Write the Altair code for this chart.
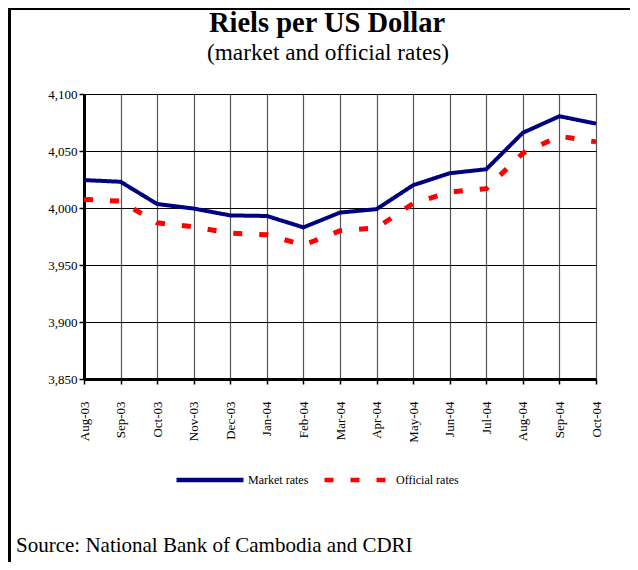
import altair as alt
import pandas as pd

months = ["Aug-03", "Sep-03", "Oct-03", "Nov-03", "Dec-03", "Jan-04", "Feb-04",
          "Mar-04", "Apr-04", "May-04", "Jun-04", "Jul-04", "Aug-04", "Sep-04", "Oct-04"]
market = [4024.5, 4023, 4003.5, 3999.5, 3993.5, 3993, 3983, 3996, 3999,
          4020, 4030.5, 4034, 4066, 4080.5, 4074]
official = [4007.5, 4006, 3987, 3983.5, 3978, 3976.5, 3967.5, 3980, 3982.5,
            4004, 4014, 4017, 4048, 4063, 4058]
series_names = ["Market rates", "Official rates"]
y_ticks = [3850, 3900, 3950, 4000, 4050, 4100]
title_text = "Riels per US Dollar"
subtitle_text = "(market and official rates)"
source_text = "Source: National Bank of Cambodia and CDRI"

df = pd.DataFrame({
    "month": months * 2,
    "rate": market + official,
    "series": [series_names[0]] * len(months) + [series_names[1]] * len(months),
})

FONT = "'Liberation Serif', 'Times New Roman', Times, serif"

x_enc = alt.X("month:N", sort=months, title=None,
              scale=alt.Scale(type="point", padding=0),
              axis=alt.Axis(labelAngle=270, labelAlign="right", labelBaseline="middle",
                            labelFont=FONT, labelFontSize=13, labelColor="black",
                            labelPadding=17, tickSize=5, tickColor="black", tickWidth=1.5,
                            domainColor="black", domainWidth=3,
                            grid=True, gridColor="#555555", gridWidth=1.2))
y_enc = alt.Y("rate:Q", title=None,
              scale=alt.Scale(domain=[3850, 4100], nice=False, zero=False),
              axis=alt.Axis(values=y_ticks, format=",d", labelFont=FONT, labelFontSize=13,
                            labelColor="black", labelPadding=2, tickSize=5, tickColor="black",
                            tickWidth=1.5, domainColor="black", domainWidth=3,
                            grid=True, gridColor="black", gridWidth=1))
legend_opts = dict(orient="none", legendX=90, legendY=350,
                   direction="horizontal", symbolType="stroke",
                   symbolSize=4489, symbolStrokeWidth=4.5,
                   labelFont=FONT, labelFontSize=12, labelColor="black",
                   labelOffset=2, columnPadding=6, padding=0)
color_enc = alt.Color("series:N", title=None,
                      scale=alt.Scale(domain=series_names, range=["#000080", "#FF0000"]),
                      legend=alt.Legend(**legend_opts))
dash_enc = alt.StrokeDash("series:N", title=None,
                          scale=alt.Scale(domain=series_names, range=[[1, 0], [9, 17]]),
                          legend=alt.Legend(**legend_opts))

base = alt.Chart(df)

market_line = base.transform_filter(alt.datum.series == series_names[0]).mark_line(
    strokeWidth=4, strokeJoin="miter"
).encode(x=x_enc, y=y_enc, color=color_enc, strokeDash=dash_enc)

official_line = base.transform_filter(alt.datum.series == series_names[1]).mark_line(
    strokeWidth=5, strokeCap="butt"
).encode(x=x_enc, y=y_enc, color=color_enc, strokeDash=dash_enc)

one = pd.DataFrame({"a": [0]})

title_mark = alt.Chart(one).mark_text(
    font=FONT, fontSize=28.5, fontWeight="bold", align="center", baseline="alphabetic",
    color="black", text=title_text
).encode(x=alt.value(243), y=alt.value(-62))

subtitle_mark = alt.Chart(one).mark_text(
    font=FONT, fontSize=23.3, align="center", baseline="alphabetic",
    color="black", text=subtitle_text
).encode(x=alt.value(244), y=alt.value(-34))

source = alt.Chart(one).mark_text(
    font=FONT, fontSize=21, align="left", baseline="alphabetic", color="black",
    text=source_text
).encode(x=alt.value(-68), y=alt.value(458))

border_top = alt.Chart(one).mark_rule(color="black", strokeWidth=2).encode(
    x=alt.value(-76), x2=alt.value(546), y=alt.value(-85))
border_left = alt.Chart(one).mark_rule(color="black", strokeWidth=3).encode(
    x=alt.value(-74.5), y=alt.value(-86), y2=alt.value(468))

chart = alt.layer(official_line, market_line, title_mark, subtitle_mark, source,
                  border_top, border_left).properties(
    width=512, height=285,
    autosize=alt.AutoSizeParams(type="none"),
    padding={"left": 76, "top": 86, "right": 34, "bottom": 183},
).configure_view(stroke="black", strokeWidth=2).configure(background="white")

chart.save("out.html", embed_options={"renderer": "svg", "actions": False})
